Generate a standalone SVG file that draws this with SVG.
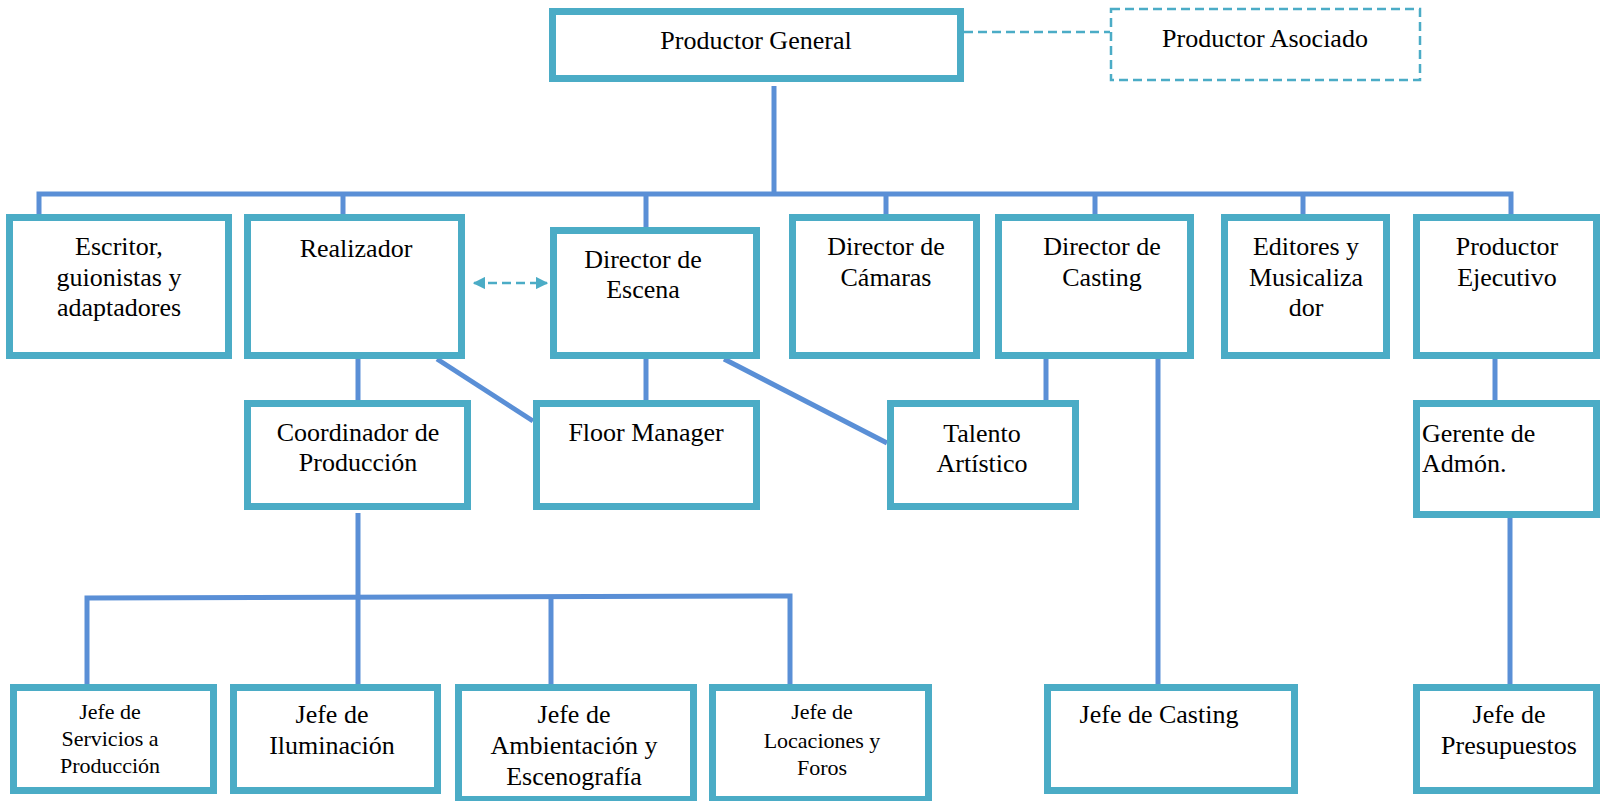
<svg xmlns="http://www.w3.org/2000/svg" width="1600" height="801" viewBox="0 0 1600 801" font-family="'Liberation Serif', 'DejaVu Serif', serif">
<defs>
<style>
.box{fill:#fff;stroke:#4BACC6;stroke-width:7}
.dbox{fill:#fff;stroke:#4BACC6;stroke-width:2.5;stroke-dasharray:9 5}
.c{fill:none;stroke:#5A8FD6;stroke-width:5}
.d{fill:none;stroke:#4BACC6;stroke-width:2.5;stroke-dasharray:9 5}
text{font-family:'Liberation Serif','DejaVu Serif',serif;font-size:26px;fill:#000;text-anchor:middle}
.s{font-size:22px}
.l{text-anchor:start}
</style>
<marker id="ah" viewBox="0 0 10 10" refX="9" refY="5" markerWidth="5" markerHeight="5" orient="auto-start-reverse" markerUnits="strokeWidth">
<path d="M0,0 L10,5 L0,10 z" fill="#4BACC6"/>
</marker>
</defs>
<rect width="1600" height="801" fill="#fff"/>
<g id="connectors">
<path class="d" d="M964,32 H1110"/>
<path class="c" d="M774,86 V194"/>
<path class="c" d="M39,216 V194 H1511 V216"/>
<path class="c" d="M343,194 V216 M646,194 V229 M886,194 V216 M1095,194 V216 M1303,194 V216"/>
<path class="d" d="M474,283 H547" marker-start="url(#ah)" marker-end="url(#ah)"/>
<path class="c" d="M358,359 V401"/>
<path class="c" d="M437,359 L533,421"/>
<path class="c" d="M646,359 V401"/>
<path class="c" d="M724,359 L887,443"/>
<path class="c" d="M1046,359 V401"/>
<path class="c" d="M1158,359 V685"/>
<path class="c" d="M1495,359 V401"/>
<path class="c" d="M1510,510 V685"/>
<path class="c" d="M358,513 V685"/>
<path class="c" d="M87,685 V598 L790,596 V685"/>
<path class="c" d="M551,597 V685"/>
</g>
<g id="productor-general"><rect class="box" x="552.5" y="11.5" width="408" height="67"/><text x="756" y="49">Productor General</text></g>
<g id="productor-asociado"><rect class="dbox" x="1111" y="9" width="309" height="71"/><text x="1265" y="47">Productor Asociado</text></g>
<g id="escritor"><rect class="box" x="9.5" y="217.5" width="219" height="138"/><text x="119" y="255">Escritor,</text><text x="119" y="286">guionistas y</text><text x="119" y="316">adaptadores</text></g>
<g id="realizador"><rect class="box" x="247.5" y="217.5" width="214" height="138"/><text x="356" y="257">Realizador</text></g>
<g id="director-escena"><rect class="box" x="553.5" y="230.5" width="203" height="125"/><text x="643" y="268">Director de</text><text x="643" y="298">Escena</text></g>
<g id="director-camaras"><rect class="box" x="792.5" y="217.5" width="184" height="138"/><text x="886" y="255">Director de</text><text x="886" y="286">Cámaras</text></g>
<g id="director-casting"><rect class="box" x="998.5" y="217.5" width="192" height="138"/><text x="1102" y="255">Director de</text><text x="1102" y="286">Casting</text></g>
<g id="editores"><rect class="box" x="1224.5" y="217.5" width="162" height="138"/><text x="1306" y="255">Editores y</text><text x="1306" y="286">Musicaliza</text><text x="1306" y="316">dor</text></g>
<g id="productor-ejecutivo"><rect class="box" x="1416.5" y="217.5" width="180" height="138"/><text x="1507" y="255">Productor</text><text x="1507" y="286">Ejecutivo</text></g>
<g id="coordinador"><rect class="box" x="247.5" y="403.5" width="220" height="103"/><text x="358" y="441">Coordinador de</text><text x="358" y="471">Producción</text></g>
<g id="floor-manager"><rect class="box" x="536.5" y="403.5" width="220" height="103"/><text x="646" y="441">Floor Manager</text></g>
<g id="talento"><rect class="box" x="890.5" y="403.5" width="185" height="103"/><text x="982" y="442">Talento</text><text x="982" y="472">Artístico</text></g>
<g id="gerente"><rect class="box" x="1416.5" y="403.5" width="180" height="111"/><text class="l" x="1422" y="442">Gerente de</text><text class="l" x="1422" y="472">Admón.</text></g>
<g id="jefe-servicios"><rect class="box" x="13.5" y="687.5" width="200" height="103"/><text class="s" x="110" y="719">Jefe de</text><text class="s" x="110" y="746">Servicios a</text><text class="s" x="110" y="773">Producción</text></g>
<g id="jefe-iluminacion"><rect class="box" x="233.5" y="687.5" width="204" height="103"/><text x="332" y="723">Jefe de</text><text x="332" y="754">Iluminación</text></g>
<g id="jefe-ambientacion"><rect class="box" x="458.5" y="687.5" width="235" height="112"/><text x="574" y="723">Jefe de</text><text x="574" y="754">Ambientación y</text><text x="574" y="785">Escenografía</text></g>
<g id="jefe-locaciones"><rect class="box" x="712.5" y="687.5" width="216" height="112"/><text class="s" x="822" y="719">Jefe de</text><text class="s" x="822" y="748">Locaciones y</text><text class="s" x="822" y="775">Foros</text></g>
<g id="jefe-casting"><rect class="box" x="1047.5" y="687.5" width="247" height="103"/><text x="1159" y="723">Jefe de Casting</text></g>
<g id="jefe-presupuestos"><rect class="box" x="1416.5" y="687.5" width="180" height="103"/><text x="1509" y="723">Jefe de</text><text x="1509" y="754">Presupuestos</text></g>
</svg>
